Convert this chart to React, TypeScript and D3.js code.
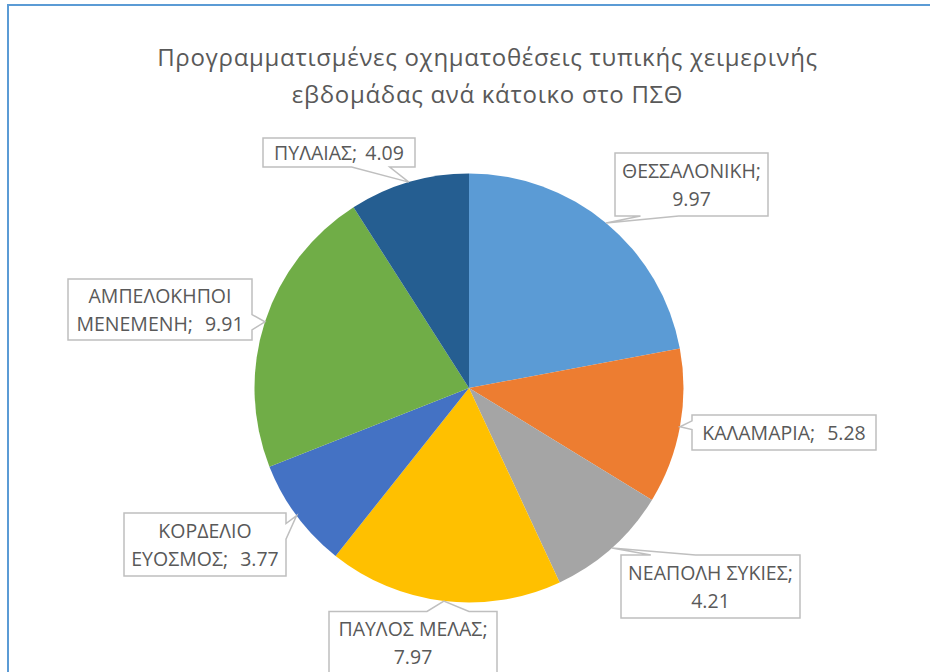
import React from 'react';
import * as d3 from 'd3';

const titleLines = ['Προγραμματισμένες οχηματοθέσεις τυπικής χειμερινής', 'εβδομάδας ανά κάτοικο στο ΠΣΘ'];

const names = ['ΘΕΣΣΑΛΟΝΙΚΗ', 'ΚΑΛΑΜΑΡΙΑ', 'ΝΕΑΠΟΛΗ ΣΥΚΙΕΣ', 'ΠΑΥΛΟΣ ΜΕΛΑΣ', 'ΚΟΡΔΕΛΙΟ ΕΥΟΣΜΟΣ', 'ΑΜΠΕΛΟΚΗΠΟΙ ΜΕΝΕΜΕΝΗ', 'ΠΥΛΑΙΑΣ'];
const values = [9.97, 5.28, 4.21, 7.97, 3.77, 9.91, 4.09];
const colors = ['#5B9BD5', '#ED7D31', '#A5A5A5', '#FFC000', '#4472C4', '#70AD47', '#255E91'];

// where each callout box sits: center x, center y, width, height
const boxLayout = [
  [691.5, 184.5, 153, 63],
  [784, 432.5, 184, 35],
  [710.5, 586.5, 179, 63],
  [413, 643, 168, 63],
  [205, 544.5, 162, 63],
  [160, 309.5, 184, 61],
  [339, 152.5, 152, 29],
];
// how the label text wraps, and the word gap Excel used on that line
const wrapMode = ['value', 'one', 'value', 'value', 'word', 'word', 'one'];
const gaps = [2, 7, 0, 0, 7, 7, 3];

const W = 930;
const H = 672;
const cx = 469;
const cy = 388;
const R = 214.5;

function labelLines(i: number) {
  const name = names[i];
  const val = values[i].toFixed(2);
  const mode = wrapMode[i];
  if (mode === 'one') return [`${name}; ${val}`];
  if (mode === 'value') return [`${name};`, val];
  const k = name.indexOf(' ');
  return [name.slice(0, k), `${name.slice(k + 1)}; ${val}`];
}

// rectangle callout with a wedge tail pointing at (tx, ty)
function calloutPath(bx: number, by: number, w: number, h: number, tx: number, ty: number) {
  const l = bx - w / 2, t = by - h / 2, r = bx + w / 2, b = by + h / 2;
  const dx = tx - bx, dy = ty - by;
  const p = d3.path();
  p.moveTo(l, t);
  const horiz = Math.abs(dx) / w > Math.abs(dy) / h;
  const fx = (a: number) => l + (w * a) / 12;
  const fy = (a: number) => t + (h * a) / 12;
  if (!horiz && dy < 0) {
    const [a1, a2] = dx < 0 ? [2, 5] : [7, 10];
    p.lineTo(fx(a1), t); p.lineTo(tx, ty); p.lineTo(fx(a2), t);
  }
  p.lineTo(r, t);
  if (horiz && dx > 0) {
    const [a1, a2] = dy < 0 ? [2, 5] : [7, 10];
    p.lineTo(r, fy(a1)); p.lineTo(tx, ty); p.lineTo(r, fy(a2));
  }
  p.lineTo(r, b);
  if (!horiz && dy > 0) {
    const [a1, a2] = dx < 0 ? [5, 2] : [10, 7];
    p.lineTo(fx(a1), b); p.lineTo(tx, ty); p.lineTo(fx(a2), b);
  }
  p.lineTo(l, b);
  if (horiz && dx < 0) {
    const [a1, a2] = dy < 0 ? [5, 2] : [10, 7];
    p.lineTo(l, fy(a1)); p.lineTo(tx, ty); p.lineTo(l, fy(a2));
  }
  p.closePath();
  return p.toString();
}

export default function App() {
  const arcs = d3.pie<number>().sort(null).value(d => d)(values);
  const arcGen = d3.arc<d3.PieArcDatum<number>>().innerRadius(0).outerRadius(R);

  return (
    <svg width={W} height={H} style={{ position: 'absolute', left: 0, top: 0, background: '#fff' }}
      fontFamily="'Open Sans', sans-serif">
      <rect x={0} y={0} width={W} height={H} fill="#fff" />
      <rect x={8} y={5} width={1200} height={1200} fill="#fff" stroke="#5B9BD5" strokeWidth={2} />

      <text textAnchor="middle" fill="#595959" fontSize={24} letterSpacing={0.7}>
        {titleLines.map((t, i) => (
          <tspan key={i} x={487.5} y={66 + i * 37}>{t}</tspan>
        ))}
      </text>

      <g transform={`translate(${cx},${cy})`}>
        {arcs.map((a, i) => (
          <path key={i} d={arcGen(a) || ''} fill={colors[i]} />
        ))}
      </g>

      <g>
        {arcs.map((a, i) => {
          const mid = (a.startAngle + a.endAngle) / 2;
          const tx = cx + R * Math.sin(mid);
          const ty = cy - R * Math.cos(mid);
          const [bx, by, bw, bh] = boxLayout[i];
          const lines = labelLines(i);
          return (
            <g key={i}>
              <path d={calloutPath(bx, by, bw, bh, tx, ty)} fill="#fff" stroke="#BFBFBF" strokeWidth={1.5} />
              <text textAnchor="middle" fill="#595959" fontSize={19.5} wordSpacing={gaps[i]}>
                {lines.map((s, j) => (
                  <tspan key={j} x={bx} y={by + (j - (lines.length - 1) / 2) * 28} dy="0.36em">{s}</tspan>
                ))}
              </text>
            </g>
          );
        })}
      </g>
    </svg>
  );
}
